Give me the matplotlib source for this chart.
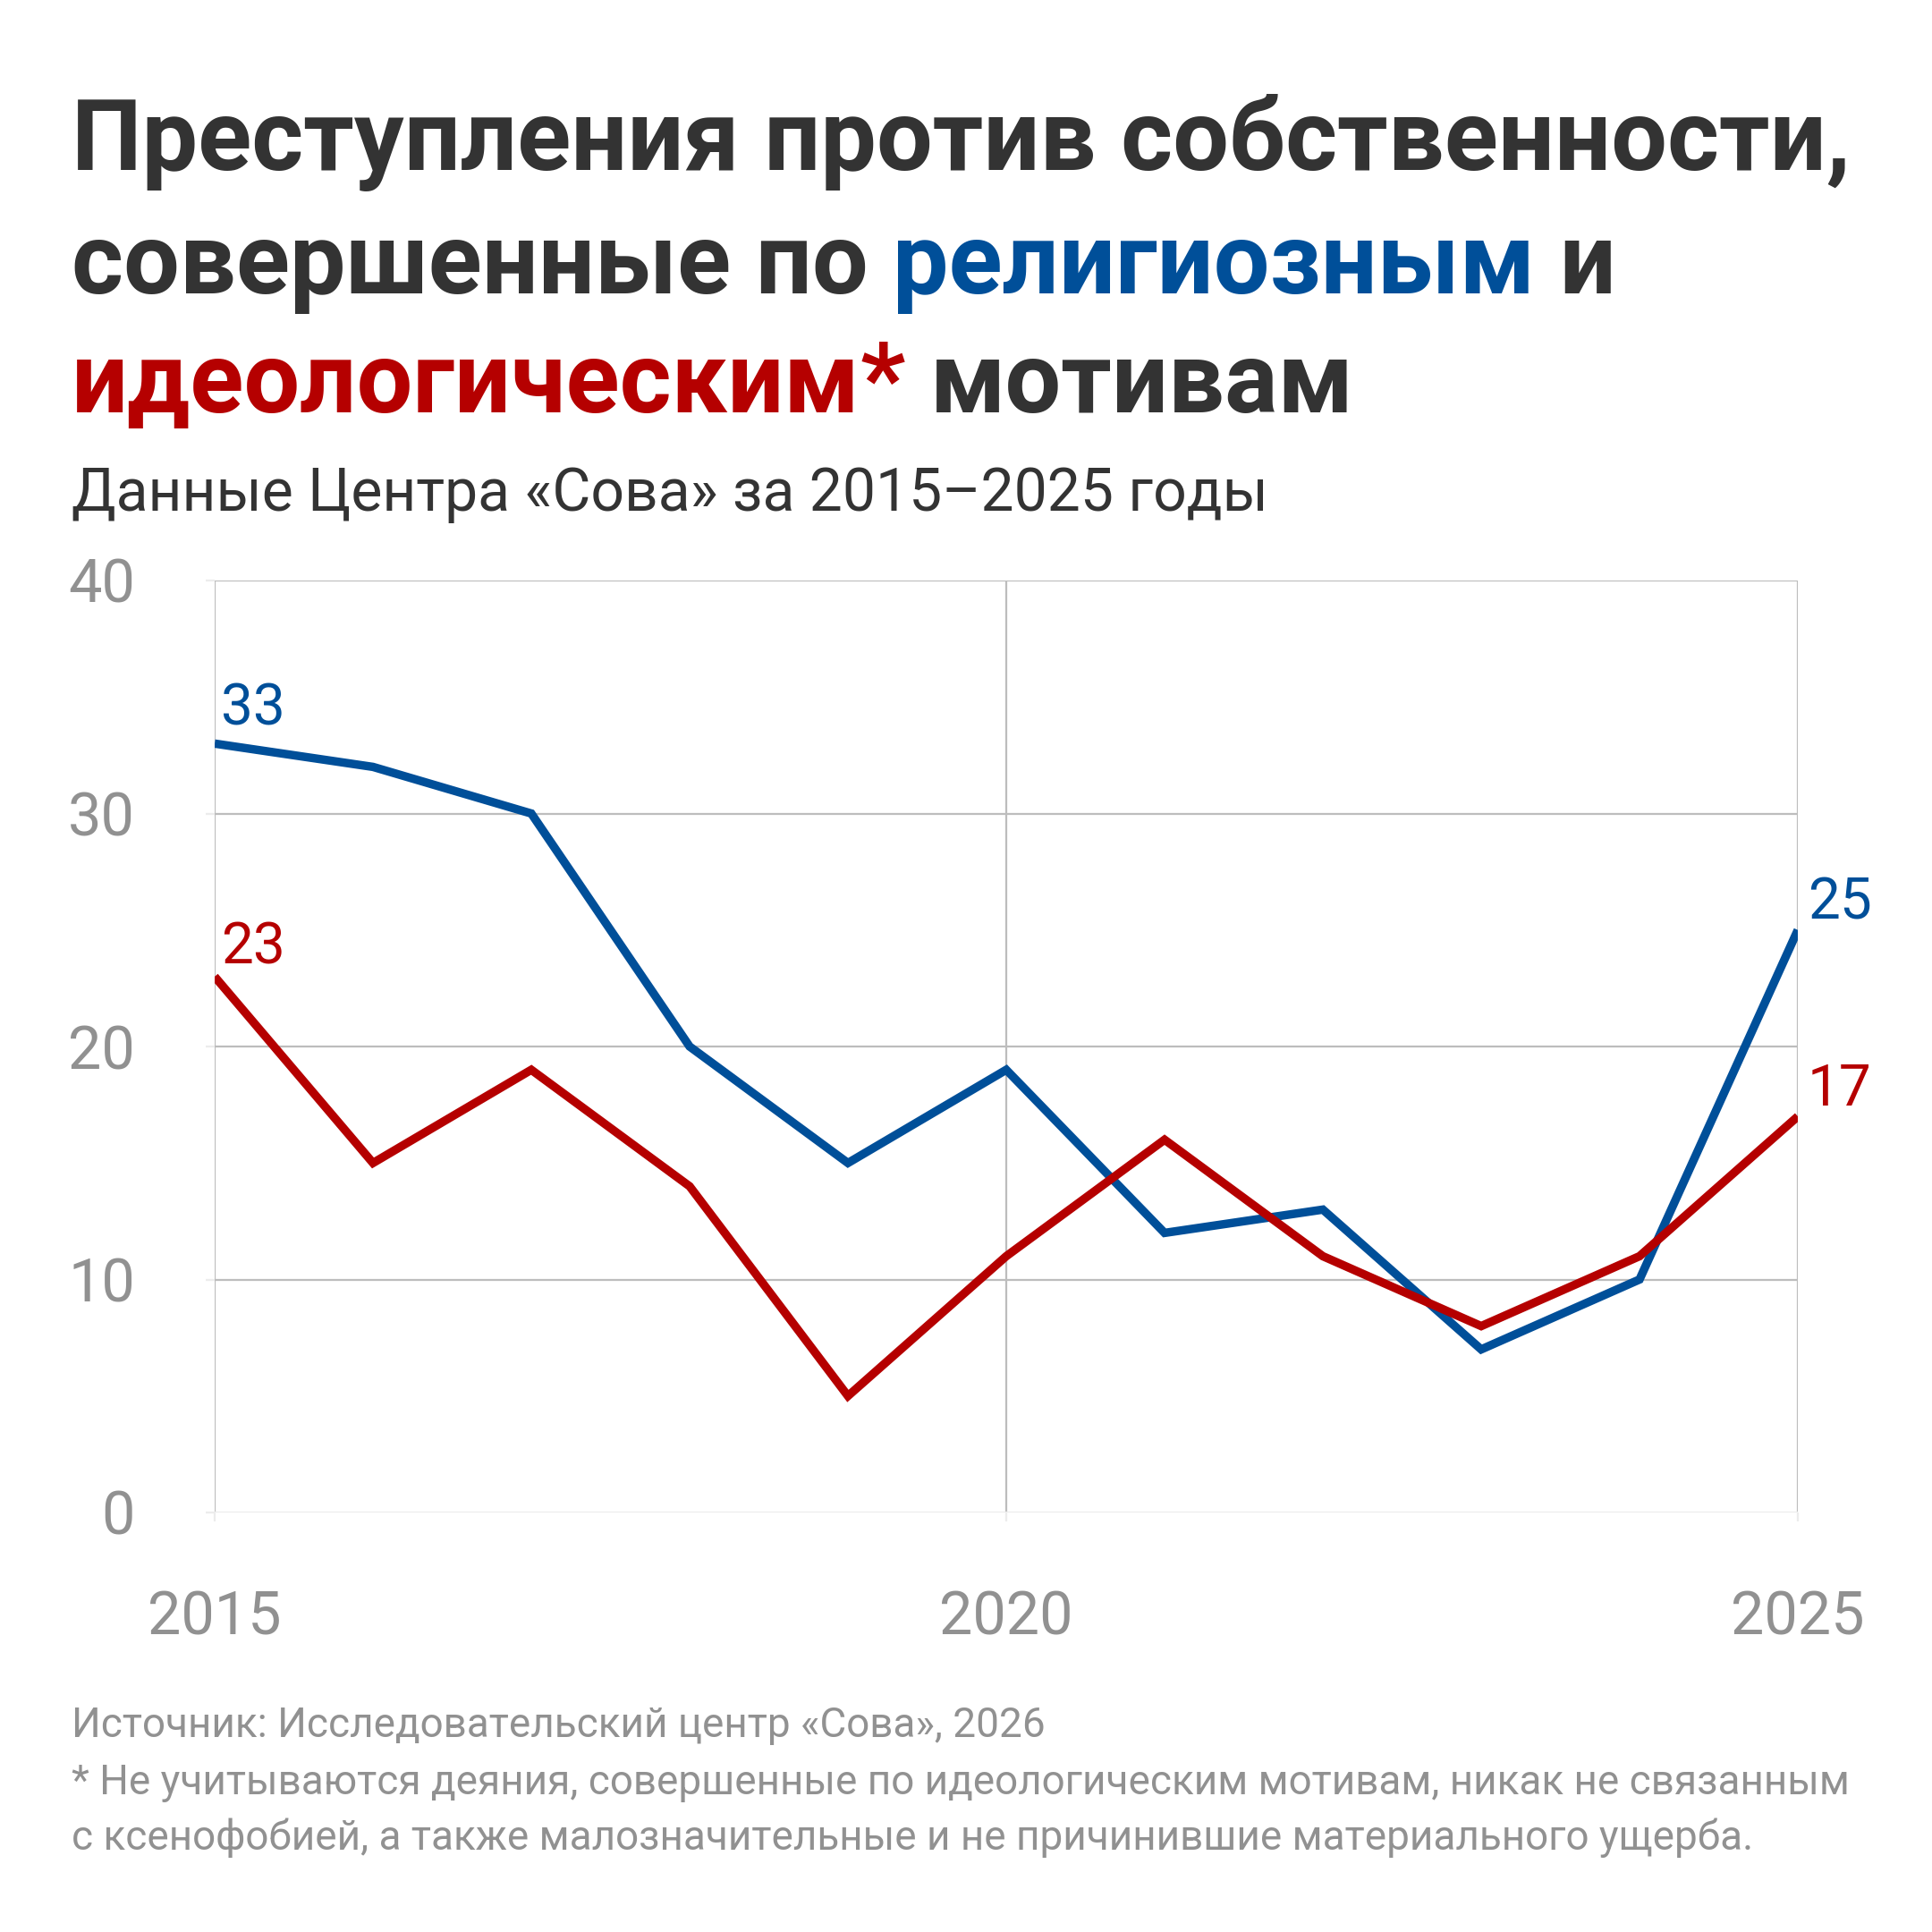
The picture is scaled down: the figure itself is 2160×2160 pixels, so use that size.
import matplotlib
matplotlib.use("Agg")
import matplotlib.pyplot as plt

# Data (Sova Center, 2015-2025)
years = [2015, 2016, 2017, 2018, 2019, 2020, 2021, 2022, 2023, 2024, 2025]
religious = [33, 32, 30, 20, 15, 19, 12, 13, 7, 10, 25]
ideological = [23, 15, 19, 14, 5, 11, 16, 11, 8, 11, 17]

y_ticks = [0, 10, 20, 30, 40]
x_ticks = [2015, 2020, 2025]

BLUE = "#004f99"
RED = "#b50000"
DARK = "#333333"
GRAY = "#919191"

plt.rcParams['font.family'] = ['Roboto', 'DejaVu Sans']

W = H = 2160
fig = plt.figure(figsize=(21.6, 21.6), dpi=100)
fig.patch.set_facecolor("white")

# plot area in pixels: x 240..2010, y 649..1691 (from top)
ax = fig.add_axes([240 / W, 1 - 1691 / H, (2010 - 240) / W, (1691 - 649) / H])
ax.set_xlim(2015, 2025)
ax.set_ylim(0, 40)
for s in ax.spines.values():
    s.set_visible(False)

ax.set_yticks(y_ticks)
ax.set_xticks(x_ticks)
ax.set_yticklabels([str(v) for v in y_ticks])
ax.set_xticklabels([str(v) for v in x_ticks])
ax.grid(True, color="#bdbdbd", linewidth=1.6, zorder=0)
ax.tick_params(axis="both", length=7, width=1.6, color="#ececec",
               labelcolor=GRAY, labelsize=48)
ax.tick_params(axis="y", pad=57)
ax.tick_params(axis="x", pad=55)
ax.set_axisbelow(True)
# zero line is much lighter than the other gridlines
ax.get_ygridlines()[0].set_color("#ececec")

ax.plot(years, religious, color=BLUE, lw=6.8, solid_joinstyle="miter",
        solid_capstyle="butt", zorder=3)
ax.plot(years, ideological, color=RED, lw=6.8, solid_joinstyle="miter",
        solid_capstyle="butt", zorder=3)

# value labels at the ends
lab_kw = dict(fontsize=46, va="baseline", ha="left", zorder=4)
ax.annotate(str(religious[0]), (years[0], religious[0]), xytext=(5, 15),
            textcoords="offset points", color=BLUE, **lab_kw)
ax.annotate(str(ideological[0]), (years[0], ideological[0]), xytext=(5, 10),
            textcoords="offset points", color=RED, **lab_kw)
ax.annotate(str(religious[-1]), (years[-1], religious[-1]), xytext=(8, 9),
            textcoords="offset points", color=BLUE, **lab_kw)
ax.annotate(str(ideological[-1]), (years[-1], ideological[-1]), xytext=(8, 9),
            textcoords="offset points", color=RED, **lab_kw)

renderer = fig.canvas.get_renderer()


def rich_line(x_px, y_px, parts, size, weight):
    # draw coloured chunks one after another on the same baseline
    x = x_px
    for txt, col in parts:
        t = fig.text(x / W, 1 - y_px / H, txt, color=col, fontsize=size,
                     fontweight=weight, va="baseline", ha="left")
        bb = t.get_window_extent(renderer)
        x += bb.width
    return x


title_size = 80
rich_line(80, 190, [("Преступления против собственности,", DARK)], title_size, "bold")
rich_line(80, 328, [("совершенные по ", DARK), ("религиозным", BLUE), (" и", DARK)],
          title_size, "bold")
rich_line(80, 461, [("идеологическим", RED), ("* ", RED), ("мотивам", DARK)],
          title_size, "bold")

fig.text(80 / W, 1 - 571 / H, "Данные Центра «Сова» за 2015–2025 годы",
         color=DARK, fontsize=47.5, va="baseline", ha="left")

foot_size = 33
fig.text(80 / W, 1 - 1942 / H, "Источник: Исследовательский центр «Сова», 2026",
         color=GRAY, fontsize=foot_size, va="baseline", ha="left")
fig.text(80 / W, 1 - 2006 / H,
         "* Не учитываются деяния, совершенные по идеологическим мотивам, никак не связанным",
         color=GRAY, fontsize=foot_size, va="baseline", ha="left")
fig.text(80 / W, 1 - 2068 / H,
         "с ксенофобией, а также малозначительные и не причинившие материального ущерба.",
         color=GRAY, fontsize=foot_size, va="baseline", ha="left")

fig.savefig("out.png", dpi=100, facecolor="white")
